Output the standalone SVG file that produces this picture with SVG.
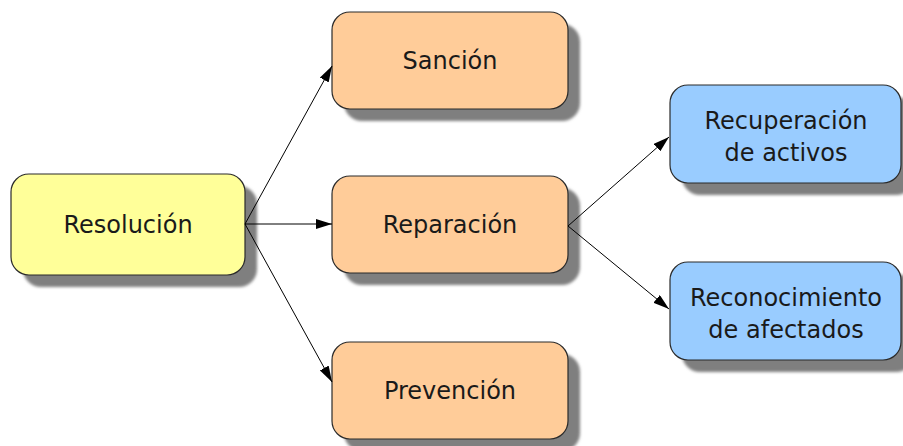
<svg xmlns="http://www.w3.org/2000/svg" width="903" height="446" viewBox="0 0 903 446">
<defs>
<filter id="blur" x="-10%" y="-10%" width="120%" height="130%"><feGaussianBlur stdDeviation="1.5"/></filter>
<marker id="arr" viewBox="0 0 16 10" refX="16" refY="5" markerWidth="16" markerHeight="10" markerUnits="userSpaceOnUse" orient="auto"><path d="M0,0 L16,5 L0,10 Z" fill="#000"/></marker>
</defs>
<style>
.sh{fill:#7f7f7f;filter:url(#blur)}
.box{stroke:#2b2b2b;stroke-width:1.2}
.y{fill:#ffff99}.o{fill:#ffcc99}.b{fill:#99ccff}
text{font-family:"DejaVu Sans",sans-serif;font-size:24px;fill:#1a1a1a;text-anchor:middle}
.c{stroke:#000;stroke-width:1;fill:none;marker-end:url(#arr)}
</style>
<rect width="903" height="446" fill="#fff"/>
<g id="resolucion">
<rect class="sh" x="23" y="186" width="234" height="101" rx="18"/>
<rect class="box y" x="11" y="174" width="234" height="101" rx="18"/>
<text x="128" y="233">Resolución</text>
</g>
<g id="sancion">
<rect class="sh" x="344" y="24" width="236" height="97" rx="18"/>
<rect class="box o" x="332" y="12" width="236" height="97" rx="18"/>
<text x="450" y="69">Sanción</text>
</g>
<g id="reparacion">
<rect class="sh" x="344" y="188" width="236" height="97" rx="18"/>
<rect class="box o" x="332" y="176" width="236" height="97" rx="18"/>
<text x="450" y="233">Reparación</text>
</g>
<g id="prevencion">
<rect class="sh" x="344" y="354" width="236" height="97" rx="18"/>
<rect class="box o" x="332" y="342" width="236" height="97" rx="18"/>
<text x="450" y="399">Prevención</text>
</g>
<g id="recuperacion">
<rect class="sh" x="682" y="97" width="232" height="98" rx="18"/>
<rect class="box b" x="670" y="85" width="231" height="98" rx="18"/>
<text x="786" y="129">Recuperación</text>
<text x="786" y="161">de activos</text>
</g>
<g id="reconocimiento">
<rect class="sh" x="682" y="274" width="232" height="98" rx="18"/>
<rect class="box b" x="670" y="262" width="231" height="98" rx="18"/>
<text x="786" y="306">Reconocimiento</text>
<text x="786" y="338">de afectados</text>
</g>
<g id="connectors">
<line class="c" x1="245" y1="224" x2="332" y2="66"/>
<line class="c" x1="245" y1="224" x2="332" y2="224"/>
<line class="c" x1="245" y1="224" x2="332" y2="382"/>
<line class="c" x1="568" y1="226" x2="669" y2="137"/>
<line class="c" x1="568" y1="226" x2="669" y2="309"/>
</g>
</svg>
